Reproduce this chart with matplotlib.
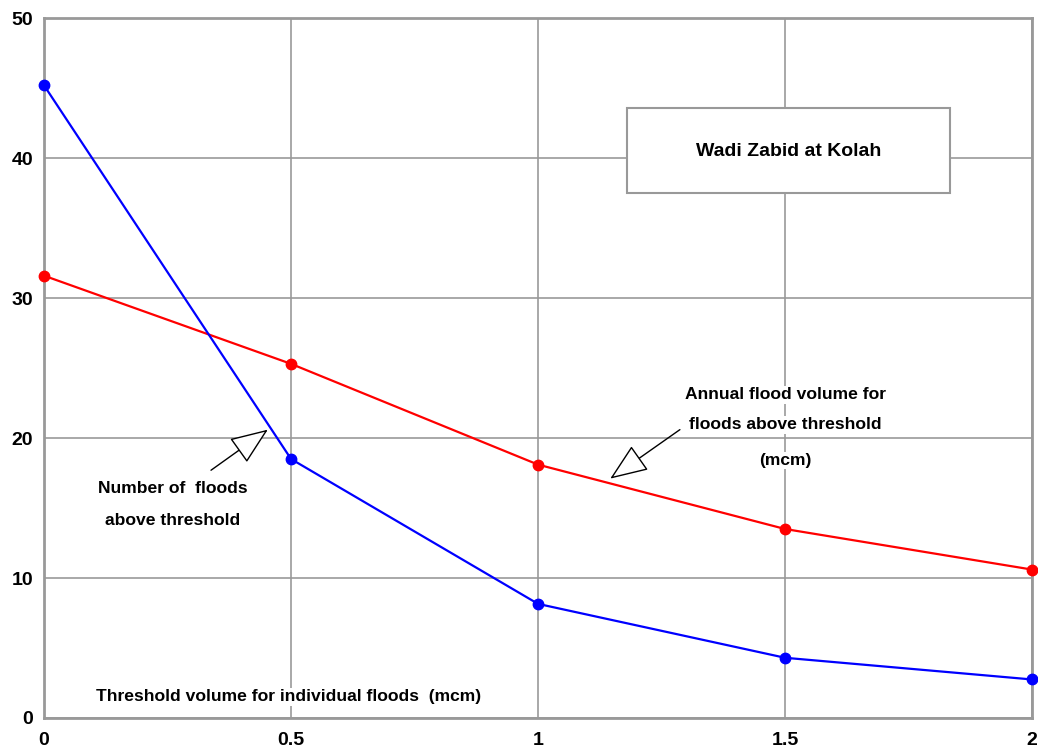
"""
Wadi Zabid at Kolah - flood counts and volumes above threshold.
"""
import matplotlib.pyplot as plt
from matplotlib.patches import Rectangle

threshold = [0, 0.5, 1, 1.5, 2]
n_floods = [45.2, 18.5, 8.15, 4.3, 2.75]
annual_volume = [31.6, 25.3, 18.1, 13.5, 10.6]

x_ticks = [0, 0.5, 1, 1.5, 2]
x_labels = ['0', '0.5', '1', '1.5', '2']
y_ticks = [0, 10, 20, 30, 40, 50]

plt.rcParams['font.family'] = ['Liberation Sans', 'DejaVu Sans']
plt.rcParams['font.weight'] = 'bold'

fig = plt.figure(figsize=(10.38, 7.56), dpi=100)
ax = fig.add_axes([0.0424, 0.0503, 0.952, 0.9257])

grid_col = '#999999'
ax.plot(threshold, annual_volume, color='red', lw=1.6, marker='o', ms=7.5,
        clip_on=False, zorder=4)
ax.plot(threshold, n_floods, color='blue', lw=1.6, marker='o', ms=7.5,
        clip_on=False, zorder=4)

ax.set_xlim(0, 2)
ax.set_ylim(0, 50)
ax.set_xticks(x_ticks)
ax.set_xticklabels(x_labels)
ax.set_yticks(y_ticks)
ax.tick_params(length=0, labelsize=14)
ax.tick_params(axis='x', pad=10)
ax.tick_params(axis='y', pad=8)
ax.grid(True, color=grid_col, lw=1.2)
for s in ax.spines.values():
    s.set_color(grid_col)
    s.set_linewidth(2)

# title box
ax.add_patch(Rectangle((1.18, 37.5), 0.654, 6.07, fc='white', ec=grid_col,
                       lw=1.5, zorder=3))
ax.text(1.507, 40.5, 'Wadi Zabid at Kolah', ha='center', va='center',
        fontsize=14, zorder=5)

bg = dict(fc='white', ec='none', pad=1)
ax.text(0.494, 1.5, 'Threshold volume for individual floods  (mcm)',
        ha='center', va='center', fontsize=12.6, bbox=bg, zorder=3)

ax.text(0.26, 16.4, 'Number of  floods', ha='center', va='center',
        fontsize=12.6, bbox=bg, zorder=3)
ax.text(0.26, 14.1, 'above threshold', ha='center', va='center',
        fontsize=12.6, bbox=bg, zorder=3)

ax.text(1.5, 23.1, 'Annual flood volume for', ha='center', va='center',
        fontsize=12.6, bbox=bg, zorder=3)
ax.text(1.5, 20.95, 'floods above threshold', ha='center', va='center',
        fontsize=12.6, bbox=bg, zorder=3)
ax.text(1.5, 18.4, '(mcm)', ha='center', va='center',
        fontsize=12.6, bbox=bg, zorder=3)

arrow = dict(arrowstyle='-|>,head_length=2.4,head_width=0.95', fc='white',
             ec='black', lw=1, shrinkA=0, shrinkB=0)
ax.annotate('', xy=(0.453, 20.6), xytext=(0.338, 17.7), arrowprops=arrow,
            zorder=5)
ax.annotate('', xy=(1.146, 17.1), xytext=(1.287, 20.6), arrowprops=arrow,
            zorder=5)

fig.savefig('out.png', dpi=100)
